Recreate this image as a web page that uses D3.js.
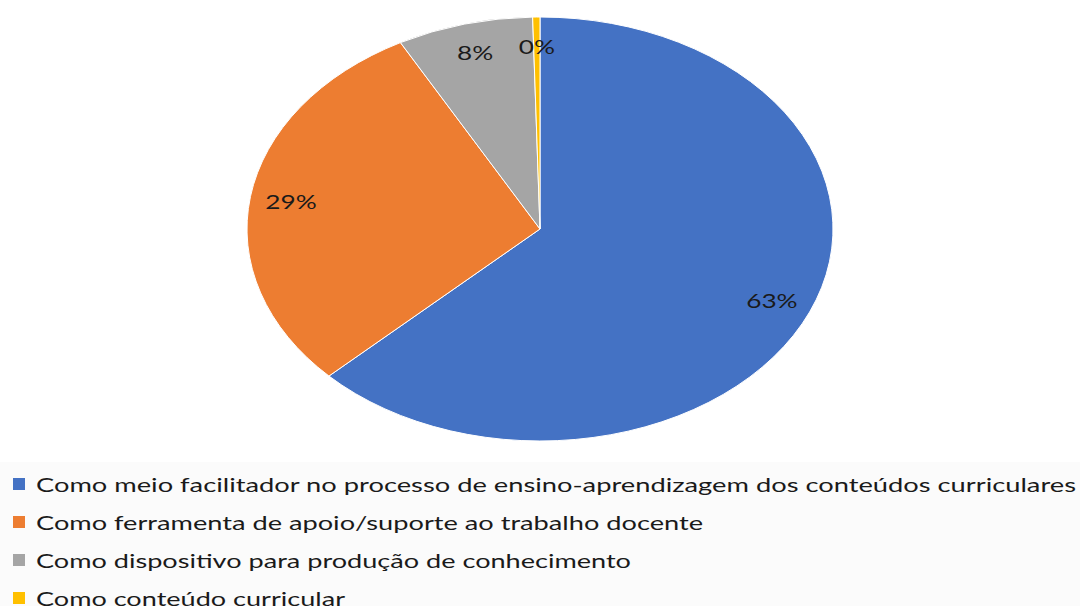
<!DOCTYPE html>
<html><head><meta charset="utf-8">
<script src="https://cdn.jsdelivr.net/npm/d3@7"></script>
<style>html,body{margin:0;padding:0;background:#fff;}svg{display:block;}</style>
</head><body><svg id="c" width="1080" height="606"></svg>
<script>
const categories = [
  "Como meio facilitador no processo de ensino-aprendizagem dos conteúdos curriculares",
  "Como ferramenta de apoio/suporte ao trabalho docente",
  "Como dispositivo para produção de conhecimento",
  "Como conteúdo curricular"
];
const values = [62.8, 29.3, 7.5, 0.4];
const valueLabels = ["63%", "29%", "8%", "0%"];
const colors = ["#4472C4", "#ED7D31", "#A5A5A5", "#FFC000"];

const W = 1080, H = 606;
const svg = d3.select("#c");
svg.append("rect").attr("width", W).attr("height", H).attr("fill", "#fff");

const cx = 540, cy = 229, rx = 293, ry = 212;
const sx = rx / ry;
const pie = d3.pie().sort(null).value(d => d);
const arcs = pie(values);
const arc = d3.arc().innerRadius(0).outerRadius(ry);
const labelArc = d3.arc().innerRadius(ry * 0.86).outerRadius(ry * 0.86);

const g = svg.append("g").attr("transform", `translate(${cx},${cy}) scale(${sx},1)`);
g.selectAll("path").data(arcs).enter().append("path")
  .attr("d", arc)
  .attr("fill", (d, i) => colors[i])
  .attr("stroke", "#fff")
  .attr("stroke-width", 1)
  .attr("vector-effect", "non-scaling-stroke");

const lg = svg.append("g").attr("transform", `translate(${cx},${cy})`);
lg.selectAll("text").data(arcs).enter().append("text")
  .attr("transform", d => {
    const c = labelArc.centroid(d);
    return `translate(${c[0] * sx},${c[1]}) scale(1.38,1)`;
  })
  .attr("text-anchor", "middle")
  .attr("dominant-baseline", "central")
  .attr("font-family", "Lato, 'Open Sans', sans-serif")
  .attr("font-size", 19)
  .attr("fill", "#1a1a1a")
  .text((d, i) => valueLabels[i]);

// legend
const legendWidths = [1040, 667, 595, 309];
const ly = d3.scaleBand().domain(d3.range(categories.length)).range([465, 617]).paddingInner(0);
svg.append("rect").attr("x", 0).attr("y", 462).attr("width", W).attr("height", H - 462).attr("fill", "#fbfbfb");
const leg = svg.append("g");
const item = leg.selectAll("g").data(categories).enter().append("g")
  .attr("transform", (d, i) => `translate(0,${ly(i) + ly.bandwidth() / 2})`);
item.append("rect").attr("x", 13).attr("y", -6).attr("width", 12).attr("height", 12)
  .attr("fill", (d, i) => colors[i]);
item.append("text").attr("x", 36).attr("y", 0)
  .attr("dominant-baseline", "central")
  .attr("font-family", "Lato, 'Open Sans', sans-serif")
  .attr("font-size", 20)
  .attr("fill", "#1a1a1a")
  .attr("textLength", (d, i) => legendWidths[i])
  .attr("lengthAdjust", "spacingAndGlyphs")
  .text(d => d);
</script></body></html>
